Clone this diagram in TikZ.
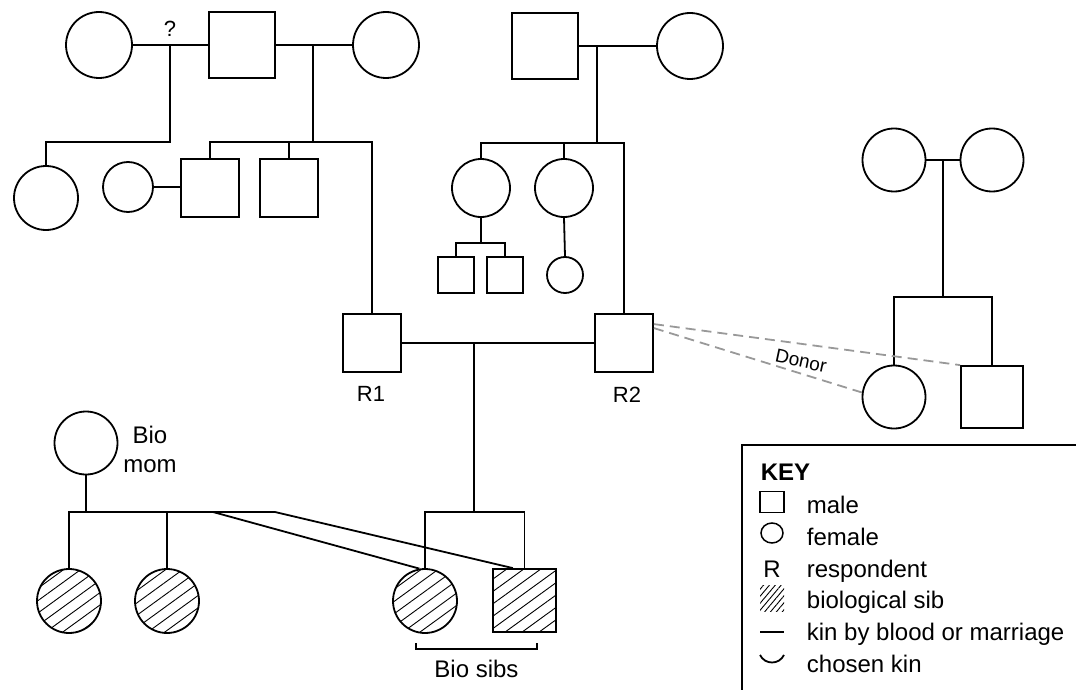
\documentclass[tikz,border=0pt]{standalone}
\usepackage{fontspec}
\setmainfont{Liberation Sans}
\usetikzlibrary{patterns.meta,calc,shapes.geometric}
\begin{document}
\begin{tikzpicture}[x=1pt,y=-1pt,
  line width=1.8pt,
  fem/.style={circle,draw,inner sep=0pt,minimum size=#1},
  mal/.style={rectangle,draw,inner sep=0pt,minimum size=#1},
  hatch/.style={pattern={Lines[angle=36,distance=10pt,line width=0.9pt]}},
  lbl/.style={font=\fontsize{22}{26}\selectfont,inner sep=0pt,anchor=base},
  bigtxt/.style={font=\fontsize{24}{28}\selectfont,inner sep=0pt,anchor=base},
  keytxt/.style={font=\fontsize{24}{28}\selectfont,inner sep=0pt,anchor=base west},
  donor/.style={draw=black!40,dash pattern=on 10pt off 6pt,line width=1.8pt},
]
\useasboundingbox (0,0) rectangle (1076,690);

% ---- people ----
\node[fem=66pt] (gf1) at (99,45) {};
\node[mal=66pt] (gm1) at (242,45) {};
\node[fem=66pt] (gf2) at (386,45) {};
\node[mal=66pt] (gm2) at (545,46) {};
\node[fem=66pt] (gf3) at (690,46) {};
\node[fem=64pt] (c1) at (46,198) {};
\node[fem=50pt] (sp1) at (128,187) {};
\node[mal=58pt] (u1) at (210,188) {};
\node[mal=58pt] (u2) at (289,188) {};
\node[fem=58pt] (a1) at (481,188) {};
\node[fem=58pt] (a2) at (564,188) {};
\node[mal=36pt] (cc1) at (456,275) {};
\node[mal=36pt] (cc2) at (505,275) {};
\node[fem=36pt] (cc3) at (565,275) {};
\node[mal=58pt] (r1) at (372,343) {};
\node[mal=58pt] (r2) at (624,343) {};
\node[fem=63pt] (df1) at (894,160) {};
\node[fem=63pt] (df2) at (992,160) {};
\node[fem=63pt] (dc1) at (894,397) {};
\node[mal=62pt] (dc2) at (992,397) {};
\node[fem=63pt] (bm) at (86,443) {};
\node[fem=64pt,hatch] (h1) at (69,601) {};
\node[fem=64pt,hatch] (h2) at (167,601) {};
\node[fem=64pt,hatch] (bs1) at (425,601) {};
\node[mal=63pt,hatch] (bs2) at (524.5,600.5) {};

% ---- junction points ----
\coordinate (jq) at (170,45);   \coordinate (jq2) at (170,142);
\coordinate (jb) at (313,45);   \coordinate (jb2) at (313,142);
\coordinate (jc) at (597,46);   \coordinate (jc2) at (597,143);
\coordinate (jd) at (481,243);
\coordinate (je) at (474,343);  \coordinate (je2) at (474,512);
\coordinate (jf) at (943,160);  \coordinate (jf2) at (943,297);
\coordinate (jg) at (86,512);   \coordinate (jg2) at (275,512);
\coordinate (jg3) at (213,512);

% ---- connectors ----
\draw (gf1) -- (gm1);
\draw (jq) -- (jq2) -| (c1.north);
\draw (gm1) -- (gf2);
\draw (jb) -- (jb2);
\draw (u1.north) |- (r1.north |- jb2) -- (r1.north);
\draw (u2.north) -- (u2.north |- jb2);
\draw (sp1.east) -- (sp1.east -| u1.west);

\draw (gm2) -- (gf3);
\draw (jc) -- (jc2);
\draw (a1.north) |- (r2.north |- jc2) -- (r2.north);
\draw (a2.north) -- (a2.north |- jc2);
\draw (a1.south) -- (jd);
\draw (cc1.north) |- (jd) -| (cc2.north);
\draw (a2.south) -- (cc3.north);

\draw (r1) -- (r2);
\draw (je) -- (je2);
\draw (bs1.north) |- (je2) -| (bs2.north);

\draw (df1) -- (df2);
\draw (jf) -- (jf2);
\draw (dc1.north) |- (jf2) -| (dc2.north);

\draw (bm.south) -- (jg);
\draw (h1.north) |- (jg2);
\draw (h2.north) -- (h2.north |- jg);
\draw (jg2) -- ($(bs2.north west)!0.32!(bs2.north east)$);
\draw (jg3) -- (bs1.100);

% ---- donor ----
\draw[donor] ([yshift=-11pt]r2.north east) -- (dc2.north west);
\draw[donor] ([yshift=-15pt]r2.north east) -- (dc1.172);
\node[font=\fontsize{19}{22}\selectfont,rotate=-12,inner sep=0pt] (don) at (801,361) {Donor};

% ---- labels ----
\node[lbl] (qm) at (170,37) {?};
\node[lbl] (lr1) at (371,401) {R1};
\node[lbl] (lr2) at (627,402) {R2};
\node[bigtxt] (bio1) at (150,443) {Bio};
\node[bigtxt] (bio2) at (150,472) {mom};
\draw[line width=1.5pt] (416,643) -- (416,649) -- (537,649) -- (537,643);
\node[bigtxt] (bsibs) at (476.5,677) {Bio sibs};

% ---- key ----
\draw (742,691) -- (742,445) -- (1077,445);
\node[keytxt,font=\bfseries\fontsize{24}{28}\selectfont] (kkey) at (760,480) {KEY};
\node[draw,inner sep=0pt,minimum width=24pt,minimum height=21pt,line width=1.5pt] (ksq) at (772,502) {};
\node[draw,ellipse,inner sep=0pt,minimum width=22pt,minimum height=20pt,line width=1.5pt] (kci) at (772,533) {};
\node[bigtxt] (kr) at (772,577) {R};
\node[pattern={Lines[angle=50,distance=4.5pt,line width=0.9pt]},inner sep=0pt,minimum width=24pt,minimum height=26pt] (kh) at (772,598) {};
\draw (760,632) -- (784,632);
\draw (760,655) .. controls (765,665) and (779,665) .. (784,655);
\node[keytxt] (t1) at (806,513) {male};
\node[keytxt] (t2) at (806,545) {female};
\node[keytxt] (t3) at (806,577) {respondent};
\node[keytxt] (t4) at (806,608) {biological sib};
\node[keytxt] (t5) at (806,640) {kin by blood or marriage};
\node[keytxt] (t6) at (806,672) {chosen kin};
\end{tikzpicture}
\end{document}
